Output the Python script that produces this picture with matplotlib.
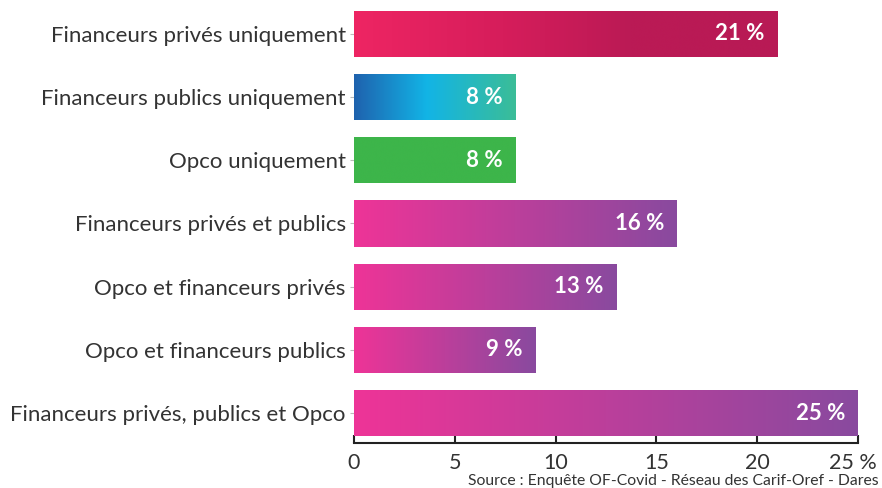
import numpy as np
import matplotlib
matplotlib.use('Agg')
import matplotlib.pyplot as plt
import matplotlib.transforms as mtransforms
from matplotlib.colors import LinearSegmentedColormap

categories = ['Financeurs privés uniquement', 'Financeurs publics uniquement', 'Opco uniquement',
              'Financeurs privés et publics', 'Opco et financeurs privés', 'Opco et financeurs publics',
              'Financeurs privés, publics et Opco']
values = [21, 8, 8, 16, 13, 9, 25]
tick_values = [0, 5, 10, 15, 20, 25]
tick_labels = ['0', '5', '10', '15', '20', '25 %']

# gradient for each bar (left -> right)
red_grad = [(0, '#ee2563'), (0.35, '#d61d5b'), (0.65, '#bb1a55'), (1, '#b81a55')]
blue_grad = [(0, '#1f62ae'), (0.45, '#12b4e6'), (1, '#3bbd97')]
green_grad = [(0, '#3db54a'), (1, '#3db54a')]
purple_grad = [(0, '#ee3497'), (1, '#894a9f')]
bar_grads = [red_grad, blue_grad, green_grad, purple_grad, purple_grad, purple_grad, purple_grad]

plt.rcParams['font.family'] = ['Lato', 'DejaVu Sans']

fig = plt.figure(figsize=(8.82, 4.88), dpi=100)
ax = fig.add_axes([0.4014, 0.0922, 0.5714, 0.9078])

y = np.arange(len(categories))
bars = ax.barh(y, values, height=0.73, color='none', edgecolor='none')

gradient = np.linspace(0, 1, 256).reshape(1, -1)
for b, stops, v in zip(bars, bar_grads, values):
    cmap = LinearSegmentedColormap.from_list('g', stops)
    x0, yb = b.get_x(), b.get_y()
    im = ax.imshow(gradient, cmap=cmap, aspect='auto', interpolation='bicubic',
                   extent=[x0, x0 + b.get_width(), yb + b.get_height(), yb], zorder=2)
    im.set_clip_path(b)
    ax.annotate('%d %%' % v, xy=(v, b.get_y() + b.get_height() / 2), xytext=(-9, 0),
                textcoords='offset points', ha='right', va='center', color='white',
                fontsize=16, fontweight='bold', zorder=3)

ax.set_xlim(0, 25)
ax.set_ylim(6.475, -0.538)
ax.set_yticks(y)
ax.set_yticklabels(categories, fontsize=16, color='#333333')
ax.set_xticks(tick_values)
ax.set_xticklabels(tick_labels, fontsize=15.5, color='#333333')
ax.tick_params(axis='y', length=3, color='#bbbbbb', pad=3)
ax.tick_params(axis='x', direction='in', length=6, width=1.5, color='#222222', pad=7)
for s in ['top', 'right', 'left']:
    ax.spines[s].set_visible(False)
ax.spines['bottom'].set_linewidth(1.5)
ax.spines['bottom'].set_color('#222222')

# shift the last tick label left so it stays inside the figure
last = ax.get_xticklabels()[-1]
last.set_transform(last.get_transform() + mtransforms.ScaledTranslation(-5 / 100, 0, fig.dpi_scale_trans))

fig.text(0.996, 0.0, 'Source : Enquête OF-Covid - Réseau des Carif-Oref - Dares',
         ha='right', va='bottom', fontsize=11.3, color='#333333')

plt.savefig('out.png', dpi=100)
